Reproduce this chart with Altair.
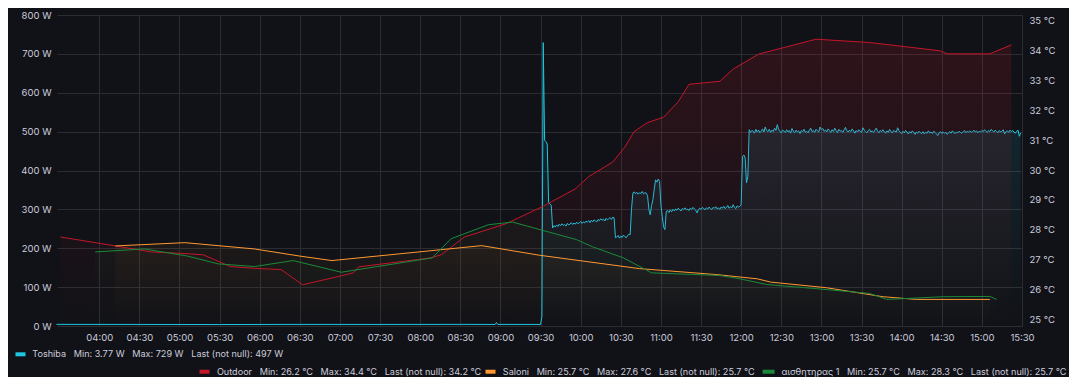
import altair as alt
import pandas as pd

DATE = "2023-07-15"

# ---------------- data ----------------
outdoor_time = ["03:31", "04:12", "04:39", "05:06", "05:18", "05:38", "05:56", "06:16", "06:32",
                "07:00", "07:10", "07:14", "08:08", "08:16", "08:33", "09:04", "09:32", "09:56",
                "10:06", "10:24", "10:33", "10:40", "10:50", "11:02", "11:13", "11:21", "11:44",
                "11:54", "12:13", "12:56", "13:36", "14:29", "14:34", "15:06", "15:22"]
outdoor_temp = [27.76, 27.46, 27.26, 27.20, 27.16, 26.77, 26.71, 26.67, 26.16,
                26.45, 26.56, 26.76, 27.06, 27.17, 27.76, 28.20, 28.79, 29.37,
                29.78, 30.27, 30.77, 31.29, 31.59, 31.77, 32.29, 32.87, 32.97,
                33.38, 33.88, 34.38, 34.27, 33.99, 33.89, 33.89, 34.19]

saloni_time = ["04:12", "05:04", "05:56", "06:30", "06:54", "08:46", "09:29", "10:44",
               "11:42", "12:12", "12:22", "13:04", "13:46", "14:11", "15:06"]
saloni_temp = [27.46, 27.57, 27.36, 27.12, 26.97, 27.47, 27.15, 26.70,
               26.50, 26.36, 26.25, 26.06, 25.76, 25.67, 25.67]

sensor_time = ["03:57", "04:34", "05:06", "05:29", "05:56", "06:25", "07:01", "08:09", "08:23",
               "08:51", "09:09", "09:57", "10:09", "10:32", "10:53", "11:44", "11:59", "12:19",
               "12:56", "13:36", "13:49", "14:31", "15:06", "15:11"]
sensor_temp = [27.26, 27.36, 27.12, 26.86, 26.77, 26.97, 26.58, 27.06, 27.70,
               28.17, 28.26, 27.67, 27.43, 27.06, 26.56, 26.47, 26.36, 26.17,
               26.03, 25.87, 25.67, 25.76, 25.77, 25.67]

# Toshiba power: single readings ...
toshiba_time = ["03:28", "04:30", "05:30", "06:30", "07:30", "08:30", "08:56", "08:57", "08:58",
                "09:30", "09:31", "09:32", "09:33", "09:34", "09:35", "09:36", "09:37", "09:38",
                "10:26", "10:38", "10:39",
                "10:50", "10:51", "10:52", "10:53", "10:54", "10:55", "10:56", "10:57", "10:58",
                "10:59", "11:00", "11:01", "11:02", "11:03", "11:04",
                "12:00", "12:01", "12:02", "12:03", "12:04", "12:05", "12:06"]
toshiba_watt = [4.2, 4.0, 3.77, 4.1, 4.0, 4.2, 4.0, 9.0, 4.1,
                4.0, 25, 729, 478, 474, 468, 318, 314, 310,
                227, 300, 342,
                335, 300, 286, 310, 325, 352, 376, 370, 378,
                372, 312, 282, 255, 248, 295,
                312, 436, 440, 432, 368, 385, 505]

# ... and runs of one-minute readings (start, step in minutes, values)
run_a_start, run_a_step = "09:39", 1
run_a = [252, 258, 255, 260, 256, 262, 258, 263, 259, 261, 257, 264, 260, 262, 266, 261,
         265, 262, 267, 263, 266, 269, 264, 268, 265, 270, 267, 271, 266, 272, 268, 273,
         270, 268, 274, 271, 276, 272, 275, 270, 277, 273, 276, 279, 274, 280, 278]
run_b_start, run_b_step = "10:27", 1
run_b = [229, 233, 226, 231, 228, 234, 230, 227, 232, 236, 235]
run_c_start, run_c_step = "10:40", 1
run_c = [345, 340, 344, 339, 343, 341, 346, 340, 343, 342]
run_d_start, run_d_step = "11:05", 1
run_d = [297, 292, 299, 294, 300, 296, 301, 298, 303, 299,
         296, 302, 300, 304, 299, 301, 297, 303, 300, 305,
         301, 298, 291, 299, 303, 300, 305, 302, 299, 304,
         301, 306, 302, 300, 305, 303, 307, 301, 304, 300,
         306, 303, 308, 302, 305, 310, 303, 307, 304, 312,
         305, 302, 309, 306, 308]
run_e_start, run_e_step = "12:07", 1
run_e = [498, 503, 501, 496, 506, 499, 504, 497, 501, 507, 499, 512, 503, 500, 506, 498, 504,
         500, 509, 503, 518, 506, 500, 497, 504, 501, 498, 505, 499, 503, 496, 508, 501, 497,
         504, 499, 502, 495, 503, 500, 506, 498, 501, 497, 504, 509, 500, 503, 498, 506, 502,
         499, 512, 505, 508, 501, 504, 499, 507, 503, 498, 505, 500, 509, 503, 497, 506, 501,
         503, 498, 505, 511, 502, 499, 504, 500, 507, 502, 496, 503, 499, 505, 501, 498, 510,
         504, 500, 497, 503, 506, 499, 502, 498, 504, 509, 501, 497, 503, 500, 505, 499, 496,
         502, 498, 506, 500, 497, 503, 501, 499, 510, 502, 498, 495, 501, 497, 503, 499, 494,
         500, 496, 502, 498, 493, 499, 496, 501, 497, 495, 500, 494, 498, 496, 502, 497, 499,
         495, 501, 498, 494, 490, 497, 500, 495, 499, 496, 498, 493, 497, 500, 496, 502, 498,
         495, 499, 497, 501, 498, 496, 500, 503, 497, 501, 499, 502, 498, 500, 504, 499, 502,
         497, 501, 499, 503, 500, 505, 501, 498, 503, 500, 506, 502, 499, 504, 500, 497, 503,
         499, 501, 505, 494, 500, 502, 498, 504, 500, 503, 499, 496, 501, 504, 488, 497]

x_tick_labels = ["04:00", "04:30", "05:00", "05:30", "06:00", "06:30", "07:00", "07:30", "08:00",
                 "08:30", "09:00", "09:30", "10:00", "10:30", "11:00", "11:30", "12:00", "12:30",
                 "13:00", "13:30", "14:00", "14:30", "15:00", "15:30"]
watt_ticks = [0, 100, 200, 300, 400, 500, 600, 700, 800]
temp_ticks = [25, 26, 27, 28, 29, 30, 31, 32, 33, 34, 35]


# ---------------- helpers ----------------
def to_min(hm):
    h, m = hm.split(":")
    return int(h) * 60 + int(m)


def hm(mins):
    return f"{mins // 60:02d}:{mins % 60:02d}"


def stamp(t):
    return f"{DATE}T{t}:00"


def run_times(start, step, values):
    s = to_min(start)
    return [hm(s + i * step) for i in range(len(values))]


tosh_pairs = list(zip(toshiba_time, toshiba_watt))
for st, sp, vals in [(run_a_start, run_a_step, run_a), (run_b_start, run_b_step, run_b),
                     (run_c_start, run_c_step, run_c), (run_d_start, run_d_step, run_d),
                     (run_e_start, run_e_step, run_e)]:
    tosh_pairs += list(zip(run_times(st, sp, vals), vals))
tosh_pairs = [p for p in tosh_pairs if to_min(p[0]) <= to_min("15:30")]
tosh_pairs.sort(key=lambda p: to_min(p[0]))
tosh_df = pd.DataFrame({"time": [stamp(t) for t, _ in tosh_pairs],
                        "watts": [w for _, w in tosh_pairs]})


def temp_df(times, temps):
    return pd.DataFrame({"time": [stamp(t) for t in times], "temp": temps})


outdoor_df = temp_df(outdoor_time, outdoor_temp)
saloni_df = temp_df(saloni_time, saloni_temp)
sensor_df = temp_df(sensor_time, sensor_temp)

# ---------------- style ----------------
BG = "#111217"
GRID = "#2c2d33"
TXT = "#ccccdc"
FONT = "Inter"
FS = 9.5
LFS = 9.1
CYAN = "#1ec6e2"
RED = "#c4162a"
ORANGE = "#ff9830"
GREEN = "#1a8a3a"
W, H = 965, 311
T_MIN, T_MAX = 24.78, 35.19


def dt(t):
    h, m = t.split(":")
    return alt.DateTime(year=2023, month=7, date=15, hours=int(h), minutes=int(m))


x_enc = alt.X(
    "time:T",
    scale=alt.Scale(domain=[alt.DateTime(year=2023, month=7, date=15, hours=3, minutes=28, seconds=24),
                            dt("15:30")]),
    axis=alt.Axis(values=[dt(t) for t in x_tick_labels], format="%H:%M", title=None,
                  grid=True, gridColor=GRID, ticks=False, domain=False, labelFlush=False,
                  labelColor=TXT, labelFont=FONT, labelFontSize=FS, labelPadding=6),
)

y_watt = alt.Y("watts:Q", scale=alt.Scale(domain=[0, 800], nice=False, clamp=True),
               axis=alt.Axis(values=watt_ticks, labelExpr="datum.value + ' W'", title=None,
                             grid=True, gridColor=GRID, ticks=False, domain=False,
                             labelColor=TXT, labelFont=FONT, labelFontSize=FS, labelPadding=6,
                             orient="left"))

y_temp = alt.Y("temp:Q", scale=alt.Scale(domain=[T_MIN, T_MAX], nice=False, zero=False, clamp=True),
               axis=alt.Axis(values=temp_ticks, labelExpr="datum.value + ' °C'", title=None,
                             grid=False, ticks=False, domain=False,
                             labelColor=TXT, labelFont=FONT, labelFontSize=FS, labelPadding=7,
                             orient="right"))


def grad(rgb, top_alpha):
    r, g, b = rgb
    return alt.Gradient(gradient="linear", x1=1, x2=1, y1=0, y2=1,
                        stops=[alt.GradientStop(color=f"rgba({r},{g},{b},{top_alpha})", offset=0),
                               alt.GradientStop(color=f"rgba({r},{g},{b},0)", offset=1)])


tosh_area = alt.Chart(tosh_df).mark_area(color=grad((30, 198, 226), 0.16), clip=True).encode(
    x=x_enc, y=y_watt, y2=alt.datum(0))
tosh_line = alt.Chart(tosh_df).mark_line(color=CYAN, strokeWidth=1).encode(x=x_enc, y=y_watt)
tosh_layer = alt.layer(tosh_area, tosh_line)

temp_layers = []
for df, col, rgb, ta in [(outdoor_df, RED, (196, 22, 42), 0.17),
                         (saloni_df, ORANGE, (255, 152, 48), 0.05),
                         (sensor_df, GREEN, (26, 138, 58), 0.06)]:
    temp_layers.append(alt.Chart(df).mark_area(color=grad(rgb, ta), clip=True).encode(
        x=x_enc, y=y_temp, y2=alt.datum(T_MIN)))
for df, col in [(outdoor_df, RED), (saloni_df, ORANGE), (sensor_df, GREEN)]:
    temp_layers.append(alt.Chart(df).mark_line(color=col, strokeWidth=1).encode(x=x_enc, y=y_temp))
temp_layer = alt.layer(*temp_layers)

# ---------------- legend (Grafana style, with stats from the data) ----------------
GAP = "\u00a0\u00a0\u00a0"


def fmt_w(v):
    return f"{v:.3g} W"


def fmt_t(v):
    return f"{v:.1f} °C"


legend_items = [
    ("Toshiba", CYAN, fmt_w(min(w for _, w in tosh_pairs)), fmt_w(max(w for _, w in tosh_pairs)),
     fmt_w(tosh_pairs[-1][1])),
    ("Outdoor", RED, fmt_t(min(outdoor_temp)), fmt_t(max(outdoor_temp)), fmt_t(outdoor_temp[-1])),
    ("Saloni", ORANGE, fmt_t(min(saloni_temp)), fmt_t(max(saloni_temp)), fmt_t(saloni_temp[-1])),
    ("αισθητηρας 1", GREEN, fmt_t(min(sensor_temp)), fmt_t(max(sensor_temp)), fmt_t(sensor_temp[-1])),
]
# layout of legend entries: (chip left, chip width, text left, row centre) in plot pixels
legend_layout = [(-41.5, 10, -24.7, 339.3), (142.5, 10, 159.9, 356.7),
                 (428.5, 10, 445.8, 356.7), (705.6, 12, 724.4, 356.7)]

legend_layers = []
for (name, col, mn, mx, last), (cx, cw, tx, cy) in zip(legend_items, legend_layout):
    label = f"{name}{GAP}Min: {mn}{GAP}Max: {mx}{GAP}Last (not null): {last}"
    src = pd.DataFrame({"label": [label]})
    legend_layers.append(alt.Chart(src).mark_rect(color=col).encode(
        x=alt.value(cx), x2=alt.value(cx + cw), y=alt.value(cy - 2), y2=alt.value(cy + 2)))
    legend_layers.append(alt.Chart(src).mark_text(
        align="left", baseline="middle", font=FONT, fontSize=LFS, color=TXT).encode(
        x=alt.value(tx), y=alt.value(cy), text="label:N"))

chart = alt.layer(tosh_layer, temp_layer, *legend_layers).resolve_scale(y="independent").properties(
    width=W, height=H,
    autosize=alt.AutoSizeParams(type="none"),
    padding={"left": 49, "top": 7, "right": 47, "bottom": 51},
    background=BG,
).configure_view(stroke=None)

chart.save("out.html", embed_options={"renderer": "svg", "actions": False})
